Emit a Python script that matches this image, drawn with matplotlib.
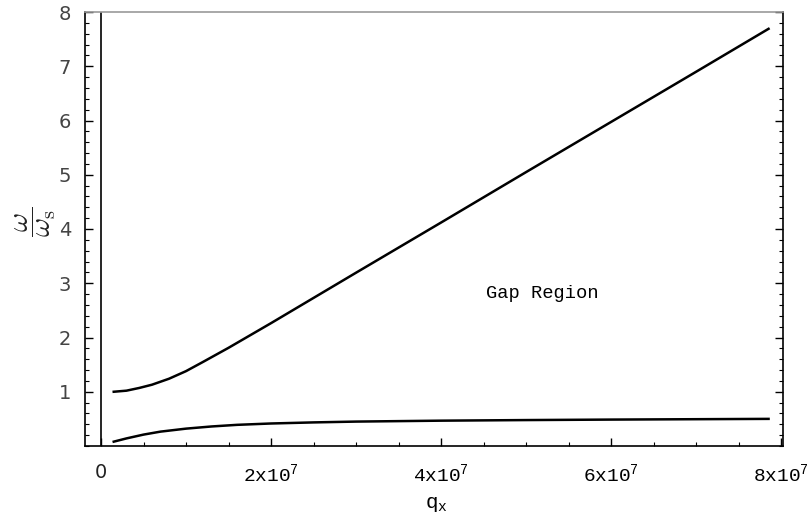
import matplotlib
matplotlib.use("Agg")
import matplotlib.pyplot as plt
from matplotlib.ticker import MultipleLocator

plt.rcParams['mathtext.fontset'] = 'custom'
plt.rcParams['mathtext.rm'] = 'Liberation Mono'
plt.rcParams['mathtext.it'] = 'Liberation Mono'
plt.rcParams['mathtext.tt'] = 'Liberation Mono'

# data (x in units of q_x)
upper_q = [0.15e7, 0.3e7, 0.45e7, 0.6e7, 0.8e7, 1.0e7, 1.2e7, 1.5e7, 2.0e7, 2.5e7, 3.0e7,
           4.0e7, 5.0e7, 6.0e7, 7.0e7, 7.85e7]
upper_w = [1.0, 1.02, 1.07, 1.13, 1.24, 1.38, 1.55, 1.81, 2.265, 2.73, 3.195,
           4.12, 5.05, 5.975, 6.90, 7.69]
lower_q = [0.15e7, 0.3e7, 0.5e7, 0.7e7, 1.0e7, 1.3e7, 1.6e7, 2.0e7, 2.5e7, 3.0e7, 4.0e7,
           5.0e7, 6.0e7, 7.0e7, 7.85e7]
lower_w = [0.08, 0.14, 0.21, 0.265, 0.32, 0.36, 0.39, 0.415, 0.435, 0.45, 0.467,
           0.478, 0.487, 0.494, 0.50]
xtick_vals = [0, 2e7, 4e7, 6e7, 8e7]
xtick_labels = ['0', r'2x10$^{7}$', r'4x10$^{7}$', r'6x10$^{7}$', r'8x10$^{7}$']
ytick_vals = [1, 2, 3, 4, 5, 6, 7, 8]

fig = plt.figure(figsize=(8.09, 5.2), dpi=100)
ax = fig.add_axes([85/809, 1-446/520, (783-85)/809, (446-12)/520])

ax.plot(upper_q, upper_w, color='black', lw=1.8, solid_joinstyle='round')
ax.plot(lower_q, lower_w, color='black', lw=1.8, solid_joinstyle='round')
ax.axvline(0, color='black', lw=1.2)

ax.set_xlim(-0.188e7, 8.02e7)
ax.set_ylim(0, 8)

ax.set_xticks(xtick_vals)
ax.set_xticklabels(xtick_labels)
for lab in ax.get_xticklabels():
    if lab.get_text() == '0':
        lab.set_fontfamily('DejaVu Sans')
        lab.set_fontsize(14)
        lab.set_color('#222222')
    else:
        lab.set_fontfamily('Liberation Mono')
        lab.set_fontsize(14)
ax.xaxis.set_minor_locator(MultipleLocator(0.5e7))
ax.set_yticks(ytick_vals)
ax.set_yticklabels([str(v) for v in ytick_vals], fontfamily='DejaVu Sans', fontsize=14, color='#444444')
ax.yaxis.set_minor_locator(MultipleLocator(0.2))

ax.tick_params(which='both', direction='in', top=False, right=True)
ax.tick_params(which='major', length=6, width=1.0)
ax.tick_params(which='minor', length=3, width=0.8)
ax.tick_params(axis='y', which='major', pad=10)
ax.tick_params(axis='x', which='major', pad=12)

for side in ['left', 'bottom', 'right']:
    ax.spines[side].set_color('black')
    ax.spines[side].set_linewidth(1.2)
ax.spines['top'].set_color('#999999')
ax.spines['top'].set_linewidth(1.2)

ax.text(5.19e7, 2.82, 'Gap Region', fontfamily='Liberation Mono', fontsize=13.5, ha='center', va='center')

fig.text(436/809, 1-505/520, r'q$_{x}$', fontfamily='Liberation Mono', fontsize=15, ha='center', va='center')
fig.text(36/809, 1-222/520, r'$\dfrac{\omega}{\omega_{\mathrm{s}}}$', rotation=90, fontsize=21,
         math_fontfamily='cm', ha='center', va='center', color='#222222')

fig.savefig('out.png', dpi=100)
